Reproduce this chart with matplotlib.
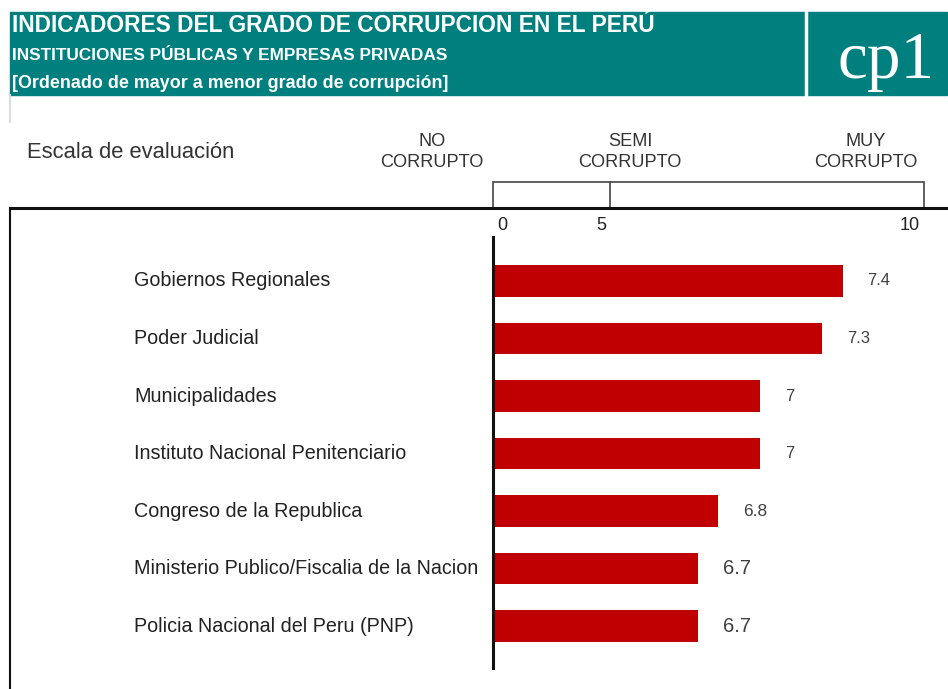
import numpy as np
import matplotlib.pyplot as plt
from matplotlib.patches import Rectangle
from matplotlib import transforms

# ==================== DATOS ====================
instituciones = [
    "Gobiernos Regionales",
    "Poder Judicial",
    "Municipalidades",
    "Instituto Nacional Penitenciario",
    "Congreso de la Republica",
    "Ministerio Publico/Fiscalia de la Nacion",
    "Policia Nacional del Peru (PNP)",
]
valores = [7.4, 7.3, 7.0, 7.0, 6.8, 6.7, 6.7]
escala_etiquetas = ["NO\nCORRUPTO", "SEMI\nCORRUPTO", "MUY\nCORRUPTO"]
escala_ticks = ["0", "5", "10"]

# tamanos de las etiquetas de valor (como en el original)
tam_valor = [12, 12, 12, 12, 12.5, 14.5, 14.5]

W, H = 948, 689
plt.rcParams['font.family'] = ['Liberation Sans', 'DejaVu Sans']
fig = plt.figure(figsize=(W / 100, H / 100), dpi=100)
renderer = fig.canvas.get_renderer()

# capa de fondo en pixeles
bg = fig.add_axes([0, 0, 1, 1])
bg.set_xlim(0, W)
bg.set_ylim(H, 0)
bg.axis('off')


def texto_ajustado(x, y, s, ancho, **kw):
    t = bg.text(x, y, s, **kw)
    w = t.get_window_extent(renderer).width
    t.set_fontsize(t.get_fontsize() * ancho / w)
    return t


# ==================== ENCABEZADO ====================
teal = '#007f7f'
bg.add_patch(Rectangle((10, 12), 937, 83, color=teal))
bg.plot([806, 806], [12, 95], color='white', lw=2.5)
bg.plot([10, 10], [95, 122], color='#dddddd', lw=1.5)

cond = ['Liberation Sans Narrow', 'Liberation Sans']
texto_ajustado(12, 26, "INDICADORES DEL GRADO DE CORRUPCION EN EL PERÚ", 643,
               color='white', fontweight='bold', family=cond, va='center', fontsize=14)
texto_ajustado(12, 56, "INSTITUCIONES PÚBLICAS Y EMPRESAS PRIVADAS", 435,
               color='white', fontweight='bold', family=cond, va='center', fontsize=10)
texto_ajustado(12, 83, "[Ordenado de mayor a menor grado de corrupción]", 436,
               color='white', fontweight='bold', family=cond, va='center', fontsize=10)
texto_ajustado(838, 62, "cp1", 97, color='white', family=['Liberation Serif', 'DejaVu Serif'],
               va='center', fontsize=36)

# ==================== ESCALA ====================
bg.text(27, 153, "Escala de evaluación", fontsize=15.8, color='#333333', va='center')
for etq, xc in zip(escala_etiquetas, [432, 630, 866]):
    bg.text(xc, 152, etq, fontsize=13.1, color='#333333', ha='center', va='center',
            multialignment='center', linespacing=1.35)
bg.add_patch(Rectangle((493, 182), 431, 26, fill=False, edgecolor='#444444', lw=1.2))
bg.plot([610, 610], [182, 208], color='#444444', lw=1.2)
for etq, xc in zip(escala_ticks, [502, 601, 910]):
    bg.text(xc, 225, etq, fontsize=13, color='#222222', ha='center', va='center')

bg.plot([10, 948], [208, 208], color='#111111', lw=2.2)
bg.plot([10, 10], [208, 689], color='#111111', lw=1.5)

# ==================== BARRAS ====================
ax = fig.add_axes([493 / W, (H - 668) / H, (W - 493) / W, (668 - 237) / H])
ax.patch.set_alpha(0)
y = np.arange(len(valores))
ax.barh(y, valores, height=0.54, color='#c00000')
ax.set_xlim(5.71, 7.91)
ax.set_ylim(6.73, -0.765)
for s in ['top', 'right', 'bottom']:
    ax.spines[s].set_visible(False)
ax.spines['left'].set_linewidth(2.2)
ax.spines['left'].set_color('#111111')
ax.set_xticks([])
ax.set_yticks([])

trans = transforms.blended_transform_factory(fig.transFigure, ax.transData)
for i, nombre in enumerate(instituciones):
    ax.text(134 / W, i, nombre, transform=trans, fontsize=14.2, color='#222222',
            va='center', ha='left')

for i, v in enumerate(valores):
    ax.annotate(f"{v:g}", (v, i), xytext=(18, 0), textcoords='offset points',
                va='center', ha='left', fontsize=tam_valor[i], color='#404040',
                annotation_clip=False)

fig.savefig('out.png', dpi=100)
